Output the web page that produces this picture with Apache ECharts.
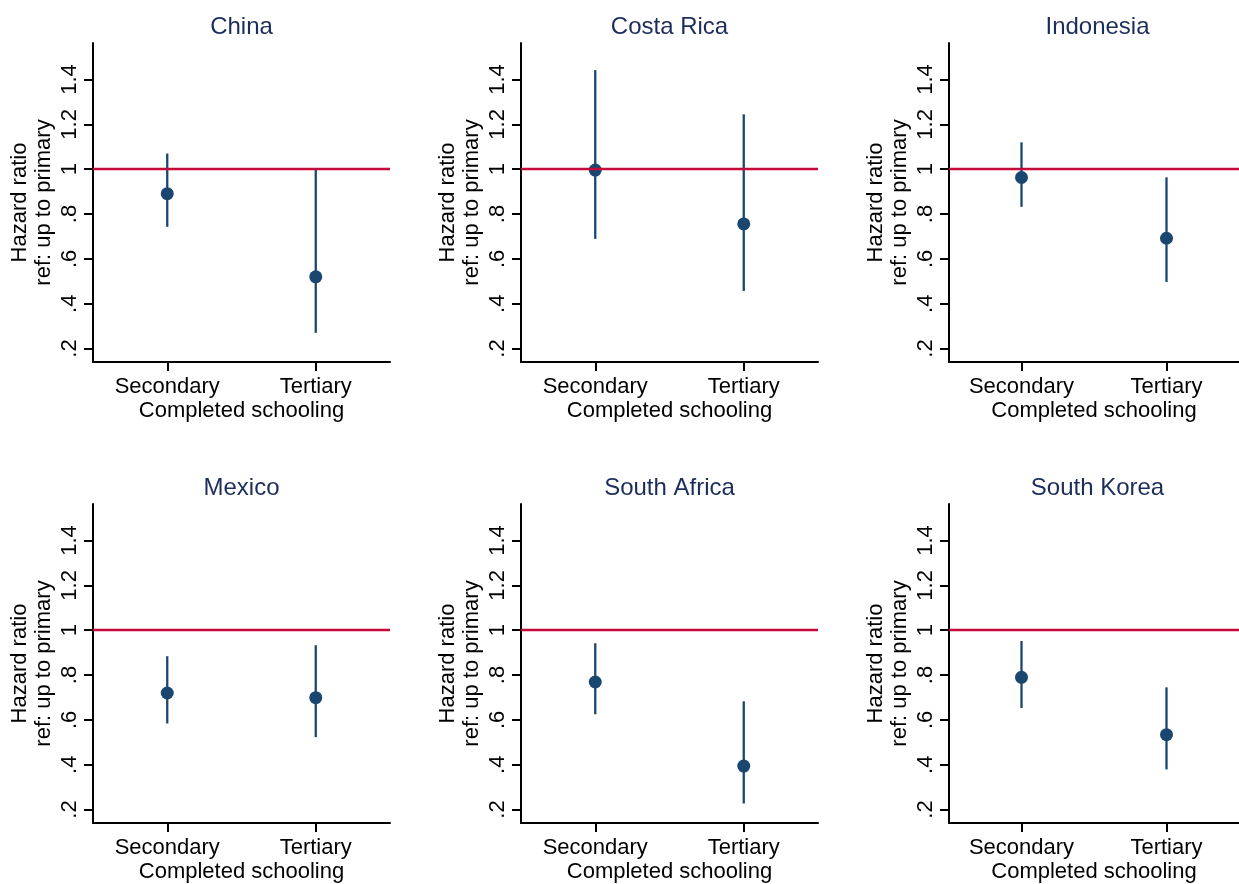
<!DOCTYPE html>
<html>
<head>
<meta charset="utf-8">
<script src="https://cdn.jsdelivr.net/npm/echarts@6/dist/echarts.min.js"></script>
<style>
  html, body { margin: 0; padding: 0; background: #ffffff; }
  #chart { width: 1239px; height: 884px; }
</style>
</head>
<body>
<div id="chart"></div>
<script>
// ---- Data ----
const countries = ['China', 'Costa Rica', 'Indonesia', 'Mexico', 'South Africa', 'South Korea'];
const categories = ['Secondary', 'Tertiary'];
const estimates = [[0.891, 0.520], [0.996, 0.756], [0.963, 0.692], [0.720, 0.699], [0.769, 0.394], [0.790, 0.534]];
const lowerCI   = [[0.743, 0.270], [0.689, 0.457], [0.832, 0.497], [0.584, 0.523], [0.625, 0.227], [0.653, 0.379]];
const upperCI   = [[1.070, 1.003], [1.442, 1.245], [1.120, 0.964], [0.884, 0.933], [0.942, 0.683], [0.952, 0.745]];
const yTicks = [0.2, 0.4, 0.6, 0.8, 1, 1.2, 1.4];
const refValue = 1;
const yTitle = 'Hazard ratio\nref: up to primary';
const xTitle = 'Completed schooling';

// ---- Layout / style ----
const FONT = 'Liberation Sans, Arial, Helvetica, sans-serif';
const lefts = [93, 521, 949];
const tops = [43, 504];
const W = 297, H = 319;
const markColor = '#1a476f';
const refColor = '#c40a3a';
const titleColor = '#1c2d5b';

const grids = [], xAxes = [], yAxes = [], titles = [], series = [];

countries.forEach((c, i) => {
  const col = i % 3, row = Math.floor(i / 3);
  const left = lefts[col], top = tops[row];
  grids.push({ left: left, top: top, width: W, height: H, containLabel: false });
  titles.push({
    text: c, left: left + W / 2, top: top - 28, textAlign: 'center', padding: 0,
    textStyle: { fontFamily: FONT, fontSize: 24, fontWeight: 'normal', color: titleColor }
  });
  xAxes.push({
    type: 'category', gridIndex: i, data: categories, boundaryGap: true,
    axisLine: { show: true, lineStyle: { color: '#000', width: 2 } },
    axisTick: { show: true, alignWithLabel: true, length: 9, lineStyle: { color: '#000', width: 2 } },
    axisLabel: { margin: 14, fontFamily: FONT, fontSize: 22, color: '#000' },
    splitLine: { show: false },
    name: xTitle, nameLocation: 'middle', nameGap: 38,
    nameTextStyle: { fontFamily: FONT, fontSize: 22, color: '#000' }
  });
  yAxes.push({
    type: 'value', gridIndex: i, min: 0.14, max: 1.563,
    axisLine: { show: true, lineStyle: { color: '#000', width: 2 } },
    axisTick: { show: true, length: 9, customValues: yTicks, lineStyle: { color: '#000', width: 2 } },
    axisLabel: {
      customValues: yTicks, rotate: 90, margin: 12,
      fontFamily: FONT, fontSize: 22, color: '#000',
      formatter: v => (Math.abs(v) < 1 ? String(+v.toFixed(2)).replace(/^0/, '') : String(+v.toFixed(2)))
    },
    splitLine: { show: false },
    name: yTitle, nameLocation: 'middle', nameRotate: 90, nameGap: 37,
    nameTextStyle: { fontFamily: FONT, fontSize: 22, color: '#000', lineHeight: 24 }
  });

  // reference line at 1
  series.push({
    type: 'scatter', xAxisIndex: i, yAxisIndex: i, data: [], z: 1, silent: true,
    markLine: {
      silent: true, symbol: ['none', 'none'], label: { show: false }, animation: false,
      lineStyle: { color: refColor, width: 2.4, type: 'solid' },
      data: [{ yAxis: refValue }]
    }
  });
  // confidence intervals
  series.push({
    type: 'custom', xAxisIndex: i, yAxisIndex: i, z: 2, silent: true,
    data: categories.map((_, k) => [k, lowerCI[i][k], upperCI[i][k]]),
    encode: { x: 0, y: [1, 2] },
    renderItem: (params, api) => {
      const p1 = api.coord([api.value(0), api.value(1)]);
      const p2 = api.coord([api.value(0), api.value(2)]);
      return {
        type: 'line',
        shape: { x1: p1[0], y1: p1[1], x2: p2[0], y2: p2[1] },
        style: { stroke: markColor, lineWidth: 2.3 }
      };
    }
  });
  // point estimates
  series.push({
    type: 'scatter', xAxisIndex: i, yAxisIndex: i, z: 3, silent: true,
    symbol: 'circle', symbolSize: 13,
    itemStyle: { color: markColor, opacity: 1 },
    data: categories.map((_, k) => [k, estimates[i][k]])
  });
});

const chart = echarts.init(document.getElementById('chart'), null, { renderer: 'canvas' });
chart.setOption({
  backgroundColor: '#ffffff',
  animation: false,
  title: titles,
  grid: grids,
  xAxis: xAxes,
  yAxis: yAxes,
  series: series
});
</script>
</body>
</html>
